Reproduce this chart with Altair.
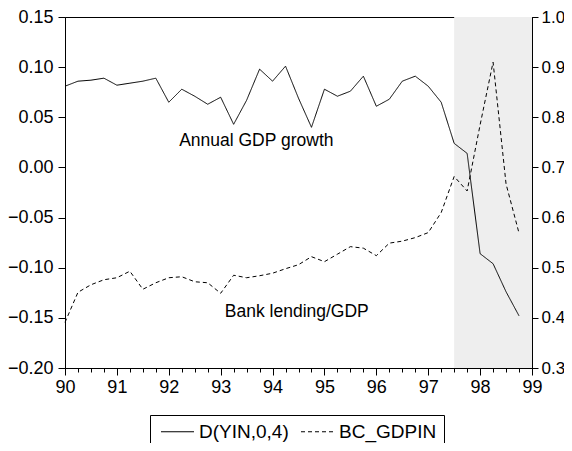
import altair as alt
import pandas as pd

# quarterly time axis, 1990Q1 .. 1998Q4 (as fractional years, 90 = 1990)
quarters = [90 + q / 4 for q in range(36)]

gdp_growth = [0.081, 0.086, 0.087, 0.089, 0.082, 0.084, 0.086, 0.089,
              0.065, 0.078, 0.071, 0.063, 0.070, 0.043, 0.067, 0.098,
              0.086, 0.101, 0.069, 0.040, 0.078, 0.071, 0.076, 0.091,
              0.061, 0.068, 0.086, 0.091, 0.081, 0.065, 0.024, 0.014,
              -0.086, -0.096, -0.124, -0.148]

bank_gdp = [0.391, 0.451, 0.466, 0.476, 0.480, 0.493, 0.457, 0.470,
            0.480, 0.482, 0.472, 0.470, 0.449, 0.485, 0.480, 0.484,
            0.489, 0.498, 0.506, 0.522, 0.512, 0.527, 0.542, 0.539,
            0.524, 0.549, 0.553, 0.560, 0.570, 0.610, 0.682, 0.653,
            0.785, 0.910, 0.667, 0.569]

series_names = ["D(YIN,0,4)", "BC_GDPIN"]

shade_start = [97.5]
shade_end = [99.0]

x_ticks = [90 + q / 4 for q in range(37)]
left_ticks = [-0.20, -0.15, -0.10, -0.05, 0.00, 0.05, 0.10, 0.15]
right_ticks = [0.3, 0.4, 0.5, 0.6, 0.7, 0.8, 0.9, 1.0]

gdp_label = ["Annual GDP growth"]
gdp_label_x = [92.2]
gdp_label_y = [0.026]
bank_label = ["Bank lending/GDP"]
bank_label_x = [93.08]
bank_label_y = [0.411]

FONT = "Liberation Sans"
FS = 18

gdp_df = pd.DataFrame({"t": quarters, "v": gdp_growth, "series": series_names[0]})
bank_df = pd.DataFrame({"t": quarters, "v": bank_gdp, "series": series_names[1]})
shade_df = pd.DataFrame({"a": shade_start, "b": shade_end})
gdp_txt = pd.DataFrame({"t": gdp_label_x, "v": gdp_label_y, "label": gdp_label})
bank_txt = pd.DataFrame({"t": bank_label_x, "v": bank_label_y, "label": bank_label})

common_axis = dict(
    title=None, grid=False, ticks=True, domain=True,
    domainColor="black", tickColor="black", labelColor="black",
    labelFont=FONT, domainWidth=1, tickWidth=1,
)

x_scale = alt.Scale(domain=[90, 99], nice=False, zero=False)
x_axis = alt.Axis(
    values=x_ticks, labelOverlap=False, labelFlush=False, labelFontSize=FS,
    labelExpr="datum.value % 1 === 0 ? format(datum.value, 'd') : ''",
    tickSize={"condition": {"test": "datum.value % 1 === 0", "value": 7}, "value": 4},
    labelPadding=3,
    **common_axis,
)
X = alt.X("t:Q", scale=x_scale, axis=x_axis)

dash_scale = alt.Scale(domain=series_names, range=[[1, 0], [4, 3]])
legend = alt.Legend(
    orient="none", legendX=85, legendY=398, direction="horizontal",
    title=None, symbolType="M-1,0H5", symbolSize=121, symbolStrokeWidth=1,
    symbolStrokeColor="black", labelFontSize=19, labelFont=FONT,
    labelColor="black", strokeColor="black", fillColor="white",
    padding=7, columnPadding=8, labelOffset=23,
)

shade = alt.Chart(shade_df).mark_rect(color="#eeeeee").encode(
    x=alt.X("a:Q", scale=x_scale, axis=x_axis), x2="b:Q"
)

y_left = alt.Y("v:Q", scale=alt.Scale(domain=[-0.2, 0.15], nice=False, zero=False),
               axis=alt.Axis(orient="left", values=left_ticks, format=".2f", labelFontSize=FS,
                             tickSize=7, labelPadding=5, labelFlush=False, **common_axis))
y_right = alt.Y("v:Q", scale=alt.Scale(domain=[0.3, 1.0], nice=False, zero=False),
                axis=alt.Axis(orient="right", values=right_ticks, format=".1f", labelFontSize=17,
                              tickSize=6, labelPadding=3, labelFlush=False, **common_axis))

gdp_line = alt.Chart(gdp_df).mark_line(color="black", strokeWidth=1).encode(
    x=X, y=y_left,
    strokeDash=alt.StrokeDash("series:N", scale=dash_scale, legend=legend),
)
gdp_text = alt.Chart(gdp_txt).mark_text(
    align="left", baseline="middle", font=FONT, fontSize=17.5, color="black"
).encode(x=X, y=y_left, text="label:N")

bank_line = alt.Chart(bank_df).mark_line(color="black", strokeWidth=1).encode(
    x=X, y=y_right,
    strokeDash=alt.StrokeDash("series:N", scale=dash_scale, legend=legend),
)
bank_text = alt.Chart(bank_txt).mark_text(
    align="left", baseline="middle", font=FONT, fontSize=17.5, color="black"
).encode(x=X, y=y_right, text="label:N")

chart = alt.layer(
    shade,
    alt.layer(gdp_line, gdp_text),
    alt.layer(bank_line, bank_text),
).resolve_scale(y="independent").properties(
    width=467, height=351,
    autosize="none",
    background="white",
    padding={"left": 57, "top": 9, "right": 32, "bottom": 75},
).configure_view(
    stroke="black", strokeWidth=1
)

chart.save("out.html", embed_options={"renderer": "svg", "actions": False})
